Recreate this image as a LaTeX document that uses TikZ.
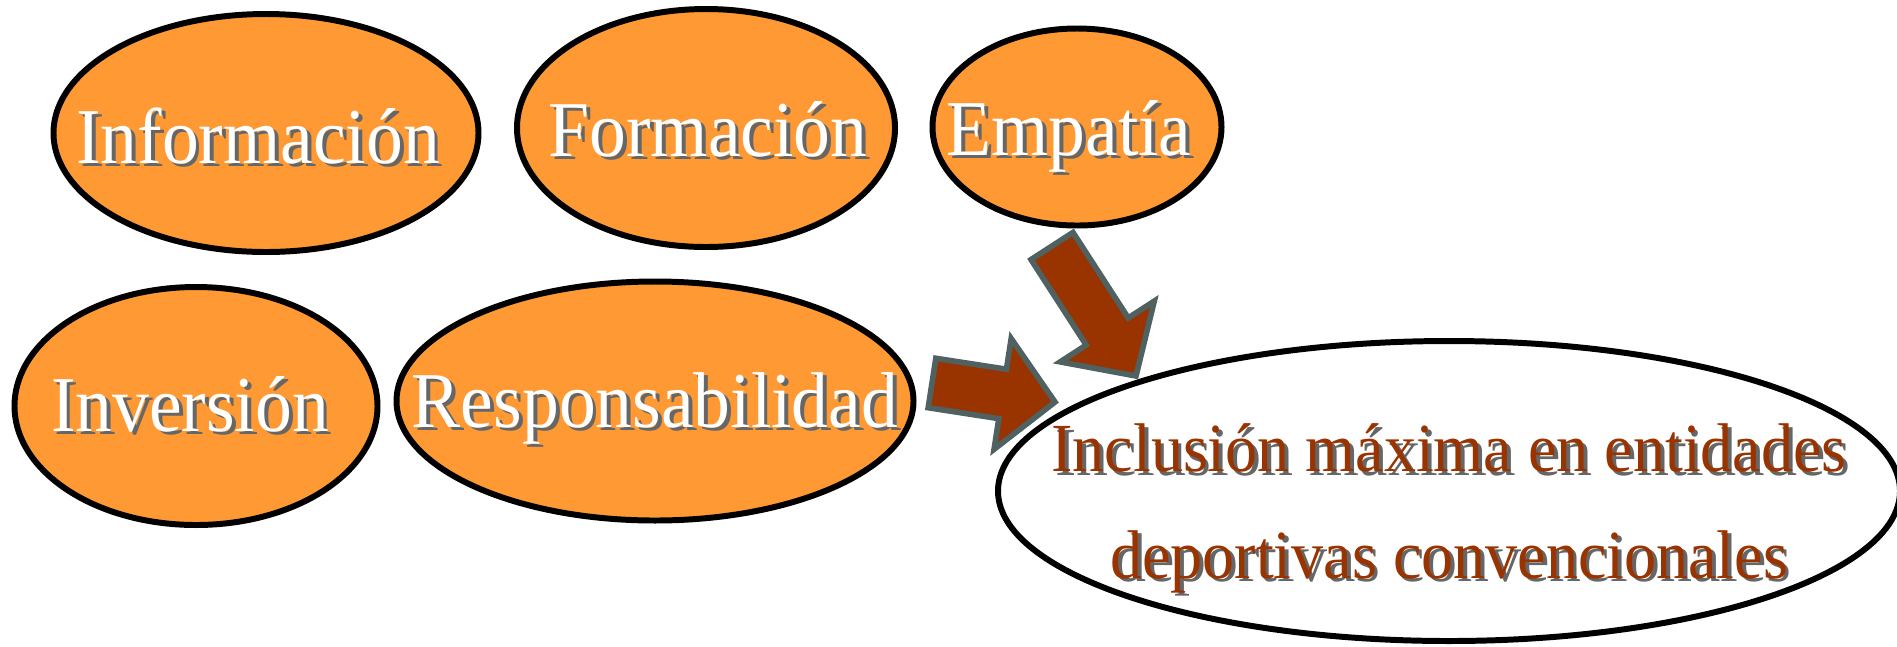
\documentclass[tikz,border=0pt]{standalone}
\usepackage{fontspec}
\setmainfont{Liberation Serif}[FakeStretch=0.93]
\usetikzlibrary{calc,shapes.geometric}
\definecolor{orangefill}{RGB}{255,153,51}
\definecolor{arrowbrown}{RGB}{153,51,0}
\definecolor{arrowedge}{RGB}{80,97,97}
\newcommand\bigfont{\fontsize{22.5}{27}\selectfont}
\newcommand\goalfont{\fontsize{19.6}{30.3}\selectfont}
\newcommand\sdw[1]{\makebox[0pt][l]{\hspace{1.1pt}\raisebox{-1.1pt}{\textcolor{black!60}{#1}}}#1}
\def\blockarrow(#1)(#2){\draw[bigarrow] ($(#1)!0.25cm!90:(#2)$) -- ($(#2)!0.53cm!(#1)!0.25cm!-90:(#1)$) -- ($(#2)!0.53cm!(#1)!0.56cm!-90:(#1)$) -- (#2) -- ($(#2)!0.53cm!(#1)!0.56cm!90:(#1)$) -- ($(#2)!0.53cm!(#1)!0.25cm!90:(#1)$) -- ($(#1)!0.25cm!-90:(#2)$) -- cycle;}
\tikzset{
  blob/.style={ellipse, draw=black, line width=1.7pt, fill=orangefill, inner sep=0pt},
  goal/.style={ellipse, draw=black, line width=1.7pt, fill=white, inner sep=0pt},
  word/.style={font=\bigfont, text=white, anchor=base, inner sep=0pt},
  bigarrow/.style={fill=arrowbrown, draw=arrowedge, line width=1.6pt, line join=miter}
}
\begin{document}
\begin{tikzpicture}
				\useasboundingbox (0,0) rectangle (18.97,-6.46);
				
				\node[blob, minimum width=4.25cm, minimum height=2.38cm] (info) at (2.66,-1.33) {};
				\node[blob, minimum width=3.78cm, minimum height=2.38cm] (forma) at (7.06,-1.28) {};
				\node[blob, minimum width=2.89cm, minimum height=1.97cm] (empatia) at (10.77,-1.27) {};
				\node[blob, minimum width=3.63cm, minimum height=2.38cm] (inver) at (1.96,-4.06) {};
				\node[blob, minimum width=5.17cm, minimum height=2.39cm] (resp) at (6.55,-4.01) {};
				\node[goal, minimum width=9.02cm, minimum height=3.0cm] (goal) at (14.49,-4.91) {};
				
				\node[word] (infotext) at ([shift={(-0.08,-0.30)}]info.center) {\sdw{Información}};
				\node[word] (formatext) at ([shift={(0.02,-0.28)}]forma.center) {\sdw{Formación}};
				\node[word] (empatiatext) at ([shift={(-0.08,-0.28)}]empatia.center) {\sdw{Empatía}};
				\node[word] (invertext) at ([shift={(-0.06,-0.25)}]inver.center) {\sdw{Inversión}};
				\node[word] (resptext) at ([shift={(0.0,-0.26)}]resp.center) {\sdw{Responsabilidad}};
				\node[word, font=\goalfont, text=arrowbrown, align=center] (goaltext) at ([shift={(0.0,-0.87)}]goal.center) {\sdw{Inclusión máxima en entidades}\\ \sdw{deportivas convencionales}};
				
				% block arrows into the goal
				\coordinate (empTail) at (10.52,-2.46);
				\coordinate (empTip) at (11.36,-3.76);
				\coordinate (respTail) at (9.32,-3.83);
				\coordinate (respTip) at (10.55,-4.02);
				\blockarrow(empTail)(empTip)
				\blockarrow(respTail)(respTip)
\end{tikzpicture}
\end{document}
